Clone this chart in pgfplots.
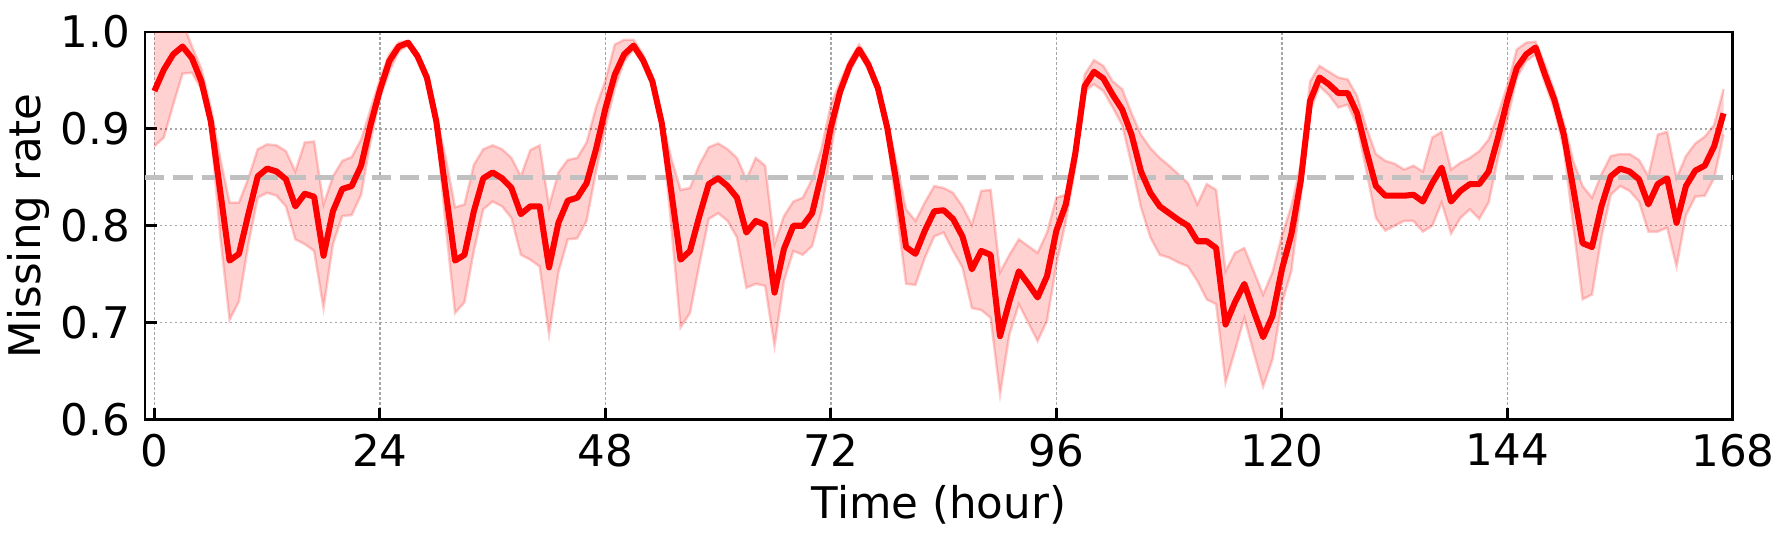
\documentclass[border=0pt]{standalone}
\usepackage{pgfplots}
\usepackage{pgfplotstable}
\usepackage{fontspec}
\setmainfont{DejaVu Sans}
\pgfplotsset{compat=1.18}
\usepgfplotslibrary{fillbetween}

\pgfplotstableread{
h mean lo hi
0 0.939 0.882 1.030
1 0.961 0.891 1.030
2 0.977 0.925 1.020
3 0.985 0.957 1.010
4 0.973 0.958 0.985
5 0.949 0.941 0.962
6 0.908 0.901 0.922
7 0.836 0.790 0.870
8 0.764 0.703 0.824
9 0.771 0.722 0.824
10 0.812 0.781 0.849
11 0.851 0.829 0.879
12 0.859 0.834 0.884
13 0.856 0.831 0.883
14 0.848 0.820 0.877
15 0.820 0.786 0.856
16 0.833 0.781 0.886
17 0.830 0.774 0.887
18 0.769 0.715 0.822
19 0.815 0.781 0.851
20 0.838 0.810 0.867
21 0.841 0.811 0.871
22 0.862 0.832 0.889
23 0.904 0.887 0.920
24 0.940 0.932 0.951
25 0.970 0.959 0.977
26 0.985 0.980 0.989
27 0.989 0.986 0.991
28 0.975 0.973 0.978
29 0.953 0.947 0.956
30 0.908 0.904 0.913
31 0.836 0.800 0.870
32 0.764 0.710 0.819
33 0.770 0.721 0.822
34 0.815 0.774 0.863
35 0.849 0.817 0.879
36 0.855 0.825 0.883
37 0.849 0.820 0.879
38 0.839 0.808 0.870
39 0.812 0.770 0.851
40 0.820 0.765 0.878
41 0.820 0.758 0.883
42 0.757 0.688 0.820
43 0.803 0.752 0.855
44 0.826 0.786 0.868
45 0.829 0.787 0.870
46 0.844 0.805 0.886
47 0.879 0.856 0.922
48 0.921 0.902 0.950
49 0.956 0.942 0.987
50 0.977 0.970 0.992
51 0.986 0.982 0.992
52 0.971 0.968 0.977
53 0.949 0.944 0.954
54 0.906 0.901 0.910
55 0.836 0.801 0.870
56 0.765 0.695 0.837
57 0.774 0.710 0.839
58 0.810 0.760 0.863
59 0.843 0.807 0.881
60 0.849 0.813 0.885
61 0.841 0.805 0.879
62 0.829 0.788 0.870
63 0.793 0.736 0.848
64 0.805 0.740 0.870
65 0.801 0.738 0.862
66 0.731 0.676 0.781
67 0.776 0.743 0.810
68 0.800 0.774 0.825
69 0.800 0.770 0.829
70 0.813 0.779 0.848
71 0.853 0.815 0.880
72 0.902 0.877 0.925
73 0.939 0.934 0.949
74 0.965 0.959 0.971
75 0.982 0.978 0.987
76 0.966 0.961 0.971
77 0.942 0.937 0.947
78 0.901 0.894 0.908
79 0.843 0.815 0.863
80 0.778 0.740 0.817
81 0.771 0.739 0.805
82 0.795 0.767 0.824
83 0.815 0.789 0.841
84 0.816 0.793 0.839
85 0.807 0.774 0.834
86 0.789 0.757 0.820
87 0.755 0.715 0.801
88 0.774 0.713 0.836
89 0.770 0.705 0.837
90 0.686 0.626 0.752
91 0.722 0.688 0.770
92 0.753 0.719 0.786
93 0.740 0.700 0.779
94 0.726 0.681 0.772
95 0.748 0.702 0.793
96 0.795 0.760 0.829
97 0.822 0.805 0.832
98 0.874 0.860 0.884
99 0.944 0.939 0.956
100 0.959 0.946 0.971
101 0.952 0.939 0.965
102 0.935 0.922 0.949
103 0.920 0.904 0.941
104 0.894 0.863 0.916
105 0.856 0.819 0.894
106 0.834 0.788 0.880
107 0.820 0.770 0.870
108 0.813 0.767 0.862
109 0.806 0.762 0.853
110 0.800 0.758 0.844
111 0.784 0.743 0.822
112 0.784 0.724 0.843
113 0.777 0.719 0.837
114 0.698 0.638 0.753
115 0.721 0.671 0.772
116 0.740 0.705 0.777
117 0.712 0.669 0.753
118 0.685 0.634 0.729
119 0.707 0.662 0.752
120 0.755 0.720 0.790
121 0.791 0.753 0.820
122 0.846 0.829 0.863
123 0.929 0.918 0.949
124 0.953 0.944 0.965
125 0.946 0.935 0.959
126 0.937 0.922 0.953
127 0.937 0.925 0.951
128 0.916 0.904 0.934
129 0.877 0.856 0.901
130 0.841 0.808 0.874
131 0.831 0.795 0.867
132 0.831 0.800 0.864
133 0.831 0.805 0.858
134 0.832 0.805 0.862
135 0.825 0.794 0.856
136 0.844 0.800 0.891
137 0.860 0.824 0.897
138 0.825 0.792 0.858
139 0.836 0.808 0.865
140 0.843 0.817 0.870
141 0.843 0.807 0.877
142 0.856 0.824 0.889
143 0.891 0.870 0.915
144 0.930 0.910 0.945
145 0.963 0.953 0.982
146 0.977 0.970 0.989
147 0.984 0.977 0.990
148 0.956 0.947 0.966
149 0.930 0.920 0.939
150 0.894 0.880 0.906
151 0.839 0.801 0.867
152 0.782 0.724 0.841
153 0.778 0.729 0.829
154 0.820 0.788 0.853
155 0.851 0.832 0.872
156 0.859 0.841 0.874
157 0.856 0.836 0.874
158 0.848 0.825 0.868
159 0.822 0.794 0.851
160 0.843 0.794 0.894
161 0.849 0.798 0.897
162 0.803 0.758 0.849
163 0.841 0.811 0.872
164 0.857 0.830 0.885
165 0.862 0.831 0.892
166 0.882 0.849 0.904
167 0.916 0.894 0.941
}\datatable

\begin{document}
\begin{tikzpicture}
\begin{axis}[
  at={(0,0)}, anchor=south west,
  scale only axis,
  width=381.1bp, height=93.0bp,
  xmin=-1, xmax=168,
  ymin=0.6, ymax=1.0,
  xtick={0,24,...,168},
  ytick={0.6,0.7,0.8,0.9,1.0},
  tick align=inside,
  tick pos=left,
  major tick length=2.8bp,
  every tick/.style={black, line width=0.7bp},
  axis line style={line width=0.7bp},
  grid=major,
  grid style={line width=0.35bp, gray!70, dash pattern=on 0.5bp off 0.7bp},
  /pgf/number format/assume math mode=true,
  y tick label style={/pgf/number format/fixed, /pgf/number format/fixed zerofill, /pgf/number format/precision=1},
  tick label style={font=\fontsize{10.5}{12}\selectfont, inner sep=0pt},
  xticklabel style={anchor=north, yshift=-3.3bp},
  yticklabel style={anchor=east, xshift=-3.4bp},
  label style={font=\fontsize{10.5}{12}\selectfont, inner sep=0pt},
  xlabel={Time (hour)},
  ylabel={Missing rate},
  xlabel style={at={(axis description cs:0.5,0)}, anchor=north, yshift=-15.6bp},
  ylabel style={at={(axis description cs:-0.0598,0.5)}, anchor=south},
]
\addplot[name path=U, red, draw opacity=0.2, line width=0.6bp] table[x=h, y=hi] {\datatable};
\addplot[name path=L, red, draw opacity=0.2, line width=0.6bp] table[x=h, y=lo] {\datatable};
\addplot[red, fill opacity=0.18, draw=none] fill between[of=U and L];
\addplot[color={rgb,255:red,192;green,192;blue,192}, line width=1.2bp, dash pattern=on 4.6bp off 2.2bp] coordinates {(-1,0.85) (168,0.85)};
\addplot[color={rgb,255:red,255;green,0;blue,0}, line width=1.45bp, line join=round] table[x=h, y=mean] {\datatable};
\end{axis}
\pgfresetboundingbox
\path[use as bounding box] (-34.8bp,-28.92bp) rectangle (393.84bp,100.68bp);
\end{tikzpicture}
\end{document}
